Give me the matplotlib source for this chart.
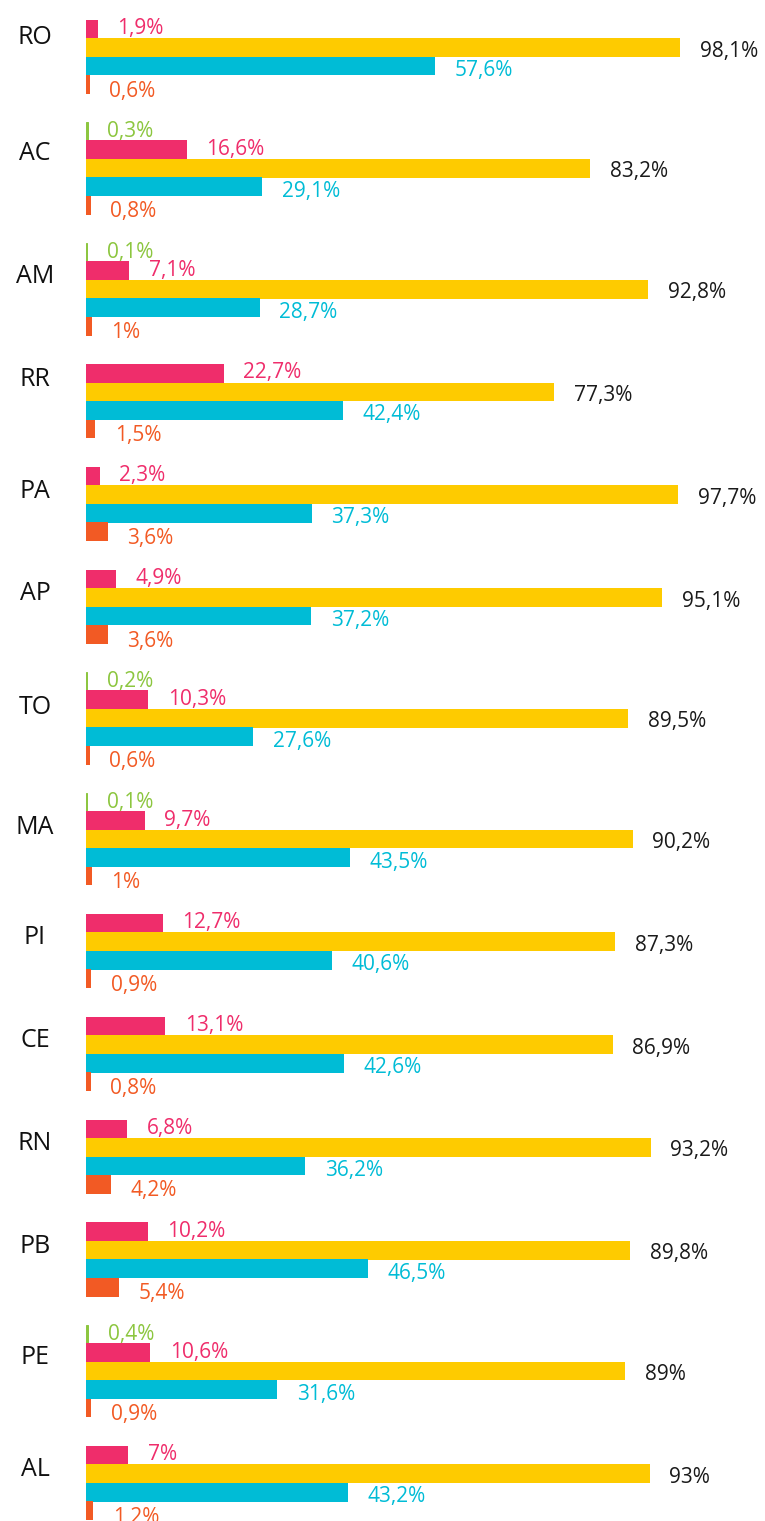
import matplotlib
matplotlib.use("Agg")
import matplotlib.pyplot as plt

plt.rcParams['font.family'] = ['Open Sans', 'DejaVu Sans']

# dados por estado (None = sem barra)
estados = ["RO", "AC", "AM", "RR", "PA", "AP", "TO", "MA", "PI", "CE", "RN", "PB", "PE", "AL"]
verde = [None, 0.3, 0.1, None, None, None, 0.2, 0.1, None, None, None, None, 0.4, None]
rosa = [1.9, 16.6, 7.1, 22.7, 2.3, 4.9, 10.3, 9.7, 12.7, 13.1, 6.8, 10.2, 10.6, 7.0]
amarelo = [98.1, 83.2, 92.8, 77.3, 97.7, 95.1, 89.5, 90.2, 87.3, 86.9, 93.2, 89.8, 89.0, 93.0]
azul = [57.6, 29.1, 28.7, 42.4, 37.3, 37.2, 27.6, 43.5, 40.6, 42.6, 36.2, 46.5, 31.6, 43.2]
laranja = [0.6, 0.8, 1.0, 1.5, 3.6, 3.6, 0.6, 1.0, 0.9, 0.8, 4.2, 5.4, 0.9, 1.2]

# cores: barra, texto
cores = {
    "verde": ("#8cc63f", "#8cc63f"),
    "rosa": ("#ef2d6b", "#ef2d6b"),
    "amarelo": ("#fecb00", "#1a1a1a"),
    "azul": ("#00bcd6", "#00bcd6"),
    "laranja": ("#f25a24", "#f25a24"),
}
# deslocamento vertical do rótulo de valor (px)
desloc_txt = {"verde": -3, "rosa": -3, "amarelo": 1, "azul": 2, "laranja": 4}
# deslocamento do rótulo do estado em relação à barra rosa (px)
desloc_estado = [5, 1, 3, 3.5, 12, 11, 5, 4, 11, 11.5, 12, 12, 2, 11]

W, H = 765, 1521
px = 6.06  # pixels por ponto percentual
passo = 18.5
gap = 47.3


def fmt(v):
    if float(v).is_integer():
        return f"{int(v)}%"
    return f"{v:.1f}".replace(".", ",") + "%"


fig = plt.figure(figsize=(W / 100, H / 100), dpi=100)
ax = fig.add_axes([86 / W, 0, 100 * px / W, 1])
ax.set_xlim(0, 100)
ax.set_ylim(H, 0)
ax.axis('off')

y = 29.0
for i, estado in enumerate(estados):
    series = [("verde", verde[i]), ("rosa", rosa[i]), ("amarelo", amarelo[i]),
              ("azul", azul[i]), ("laranja", laranja[i])]
    series = [(n, v) for n, v in series if v is not None]
    y_rosa = None
    for j, (nome, v) in enumerate(series):
        if j > 0:
            y += 18.0 if series[j - 1][0] == "verde" else passo
        cor_barra, cor_txt = cores[nome]
        lw = 0.7 if nome == "verde" else 0
        ax.barh(y, v, height=18.8, color=cor_barra, edgecolor=cor_barra, linewidth=lw)
        fim = max(v, 0.3)
        ax.text(fim + 19.5 / px, y + desloc_txt[nome], fmt(v), color=cor_txt,
                fontsize=15, ha='left', va='center_baseline', clip_on=False)
        if nome == "rosa":
            y_rosa = y
    ax.text(-51 / px, y_rosa + desloc_estado[i], estado, color="#111111",
            fontsize=18, ha='center', va='center_baseline', clip_on=False)
    y += gap

fig.savefig("out.png", dpi=100)
